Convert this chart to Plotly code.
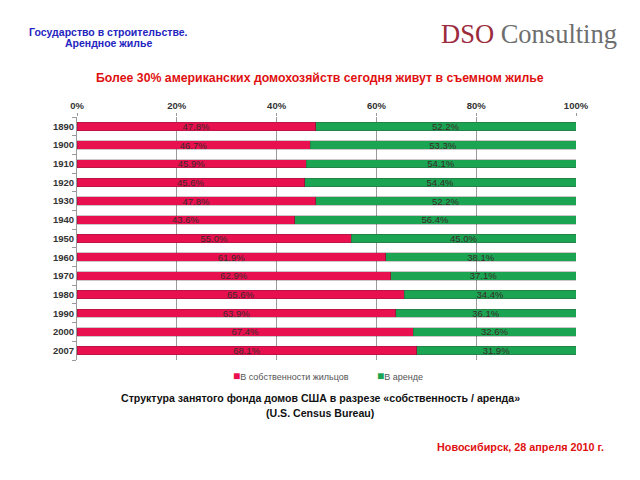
import plotly.graph_objects as go

years = ["1890", "1900", "1910", "1920", "1930", "1940", "1950",
         "1960", "1970", "1980", "1990", "2000", "2007"]
owner = [47.8, 46.7, 45.9, 45.6, 47.8, 43.6, 55.0, 61.9, 62.9, 65.6, 63.9, 67.4, 68.1]
renter = [52.2, 53.3, 54.1, 54.4, 52.2, 56.4, 45.0, 38.1, 37.1, 34.4, 36.1, 32.6, 31.9]
x_ticks = [0, 20, 40, 60, 80, 100]
series_names = ["В собственности жильцов", "В аренде"]

PINK = "#E8104F"
GREEN = "#1BA553"
FONT = "Liberation Sans, Arial, sans-serif"

fig = go.Figure()
for name, vals, col in [(series_names[0], owner, PINK), (series_names[1], renter, GREEN)]:
    fig.add_trace(go.Bar(
        y=years, x=vals, name=name, orientation="h",
        marker=dict(color=col, line=dict(color="rgba(60,30,40,0.5)", width=0.5)),
        text=[f"{v:.1f}%" for v in vals], textposition="inside",
        insidetextanchor="middle", textangle=0,
        textfont=dict(family=FONT, size=9.5, color="#3a2a2a"),
        constraintext="none",
    ))

# page has an 8px body margin: figure is 632x472 and placed at (8, 8)
fig.update_layout(
    barmode="stack", bargap=0.55,
    width=632, height=472,
    margin=dict(l=69, r=64, t=109, b=120),
    plot_bgcolor="white", paper_bgcolor="white",
    font=dict(family=FONT, size=9, color="#333333"),
    showlegend=False,
    xaxis=dict(side="top", range=[0, 100], tickvals=x_ticks,
               ticktext=[f"<b>{t}%</b>" for t in x_ticks],
               showgrid=True, gridcolor="#9a9a9a", gridwidth=1,
               zeroline=False, showline=False, ticks="outside", ticklen=3,
               tickcolor="#9a9a9a", fixedrange=True,
               tickfont=dict(family=FONT, size=9.5, color="#333333")),
    yaxis=dict(autorange="reversed", showline=True, linecolor="#9a9a9a",
               ticks="outside", tickson="boundaries", ticklen=4, tickcolor="#9a9a9a",
               tickvals=years, ticktext=[f"<b>{y}</b>" for y in years],
               tickfont=dict(family=FONT, size=9.5, color="#333333")),
)

anns = [
    dict(x=108, y=32, text="<b>Государство в строительстве.</b>", font=dict(size=10.5, color="#2424C0")),
    dict(x=108, y=43, text="<b>Арендное жилье</b>", font=dict(size=10.5, color="#2424C0")),
    dict(x=320, y=78, text="<b>Более 30% американских домохозяйств сегодня живут в съемном жилье</b>",
         font=dict(size=12.3, color="#E01010")),
    dict(x=320, y=398, text="<b>Структура занятого фонда домов США в разрезе «собственность / аренда»</b>",
         font=dict(size=10.6, color="#111111")),
    dict(x=320, y=413, text="<b>(U.S. Census Bureau)</b>", font=dict(size=10.6, color="#111111")),
    dict(x=606, y=447, text="<b>Новосибирск, 28 апреля 2010 г.</b>", xanchor="right",
         font=dict(size=10.8, color="#E01010")),
    dict(x=529, y=34,
         text="<span style='color:#9B2A3C'>DSO</span> <span style='color:#6E6E6E'>Consulting</span>",
         font=dict(size=26.5, family="Liberation Serif, Times New Roman, serif")),
    # legend
    dict(x=231, y=376, xanchor="left",
         text=f"<span style='color:{PINK};font-size:12px'>■</span>{series_names[0]}",
         font=dict(size=9, color="#555555")),
    dict(x=375, y=376, xanchor="left",
         text=f"<span style='color:{GREEN};font-size:12px'>■</span>{series_names[1]}",
         font=dict(size=9, color="#555555")),
]
for a in anns:
    a.setdefault("xanchor", "center")
    a["font"].setdefault("family", FONT)
    fig.add_annotation(xref="paper", yref="paper", x=(a["x"] - 77) / 499,
                       y=(360 - a["y"]) / 243, yanchor="middle", showarrow=False,
                       text=a["text"], xanchor=a["xanchor"], font=a["font"])

fig.write_html("out.html")
